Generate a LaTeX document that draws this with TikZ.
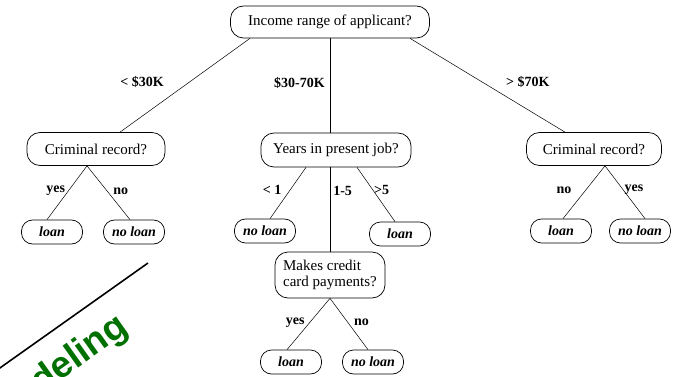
\documentclass[tikz,border=0pt]{standalone}
\usepackage{fontspec}
\setmainfont{Liberation Serif}
\newfontfamily\greenfont{Liberation Sans}
\usetikzlibrary{positioning}
\definecolor{darkgrn}{RGB}{0,112,0}

\begin{document}
\begin{tikzpicture}[x=1pt,y=-1pt,line width=0.5pt,
  test/.style={draw,line width=0.7pt,rounded corners=13pt,inner sep=2pt,
    font=\fontsize{15}{16}\selectfont},
  leaf/.style={draw,line width=0.7pt,rounded corners=11pt,minimum width=61pt,
    minimum height=24pt,inner sep=1pt,font=\fontsize{14}{15}\selectfont\bfseries\itshape},
  lbl/.style={font=\fontsize{14}{15}\selectfont\bfseries,inner sep=1pt}]
  \useasboundingbox (0,0) rectangle (677,377);
  \clip (0,0) rectangle (677,377);

  % tests
  \node[test,minimum width=199pt,minimum height=32pt] (inc) at (330,22) {Income range of applicant?};
  \node[test,minimum width=138pt,minimum height=33pt] (crl) at (96,149) {Criminal record?};
  \node[test,minimum width=150pt,minimum height=34pt] (yrs) at (336,150) {Years in present job?};
  \node[test,minimum width=135pt,minimum height=33pt] (crr) at (594,149) {Criminal record?};
  \node[test,minimum width=110pt,minimum height=46pt,align=left] (mk) at (330,275) {Makes credit\\card payments?};

  % leaves
  \node[leaf] (crl1) at (52,232) {loan};
  \node[leaf] (crl2) at (134,232) {no loan};
  \node[leaf] (yrs1) at (265,231) {no loan};
  \node[leaf] (yrs3) at (400,234) {loan};
  \node[leaf] (mk1) at (291,362) {loan};
  \node[leaf] (mk2) at (373,362) {no loan};
  \node[leaf] (crr1) at (561,231) {loan};
  \node[leaf] (crr2) at (640,231) {no loan};

  \path[every node/.style={lbl}]
    ([xshift=-80]inc.south) edge node[pos=0.47,left=24pt] {< \$30K} ([xshift=24]crl.north)
    (inc.south) edge node[pos=0.47,left=4pt] {\$30-70K} (inc.south |- yrs.north)
    ([xshift=80]inc.south) edge node[pos=0.47,right=22pt] {> \$70K} ([xshift=-29]crr.north)
    ([xshift=-9]crl.south) edge node[pos=0.47,left=2pt] {yes} ([xshift=-5]crl1.north)
    ([xshift=-9]crl.south) edge node[pos=0.47,right=5pt] {no} ([xshift=-4]crl2.north)
    ([xshift=-30]yrs.south) edge node[pos=0.43,left=8pt] {< 1} ([xshift=5]yrs1.north)
    (yrs.south -| inc.south) edge node[pos=0.28,right=2pt] {1-5} (mk.north)
    ([xshift=21]yrs.south) edge node[pos=0.42,right=0pt] {>5} ([xshift=-5]yrs3.north)
    (mk.south) edge node[pos=0.47,left=4pt] {yes} ([xshift=-4]mk1.north)
    (mk.south) edge node[pos=0.47,right=5pt] {no} ([xshift=-5]mk2.north)
    ([xshift=11]crr.south) edge node[pos=0.46,left=13pt] {no} ([xshift=2]crr1.north)
    ([xshift=11]crr.south) edge node[pos=0.46,right=0pt] {yes} ([xshift=5]crr2.north);

  % banner in the corner
  \draw[line width=1.6pt] (148,263) -- (-10,375);
  \node[rotate=35.4,anchor=base east,inner sep=0pt,text=darkgrn,
    font=\fontsize{37}{40}\selectfont\greenfont\bfseries] (mdl) at (130,331) {Modeling};
\end{tikzpicture}
\end{document}
